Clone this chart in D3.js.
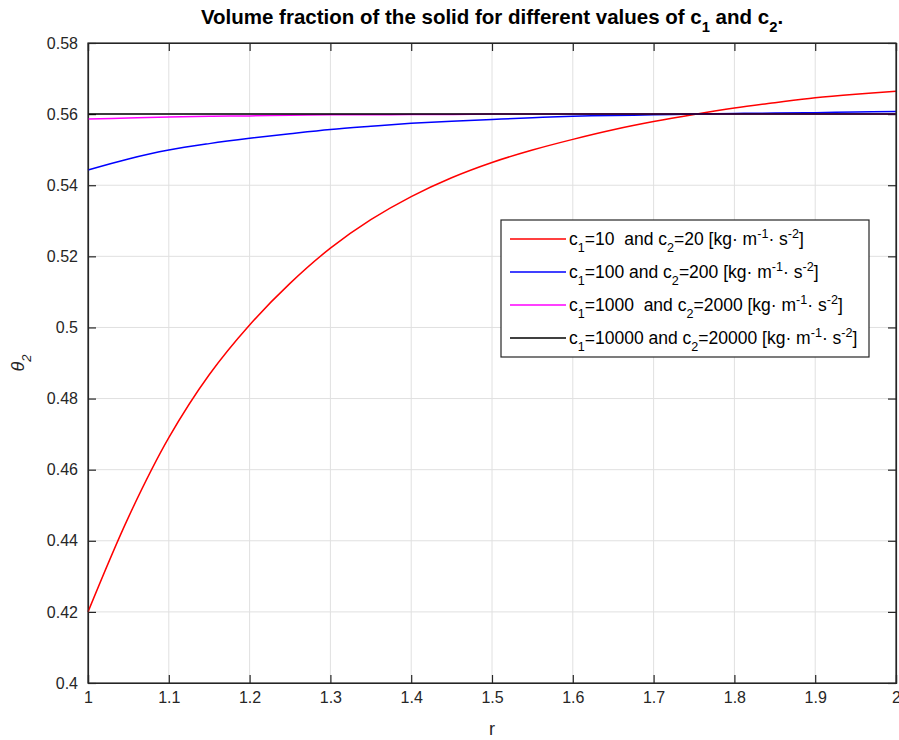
<!DOCTYPE html>
<html>
<head>
<meta charset="utf-8">
<script src="https://cdn.jsdelivr.net/npm/d3@7"></script>
<style>
  html, body { margin: 0; padding: 0; background: #ffffff; }
  svg { display: block; }
  text { font-family: "Liberation Sans", Arial, Helvetica, sans-serif; white-space: pre; }
</style>
</head>
<body>
<svg id="chart" width="899" height="740"></svg>
<script>
// ---------------- data ----------------
const rValues = [1.00, 1.05, 1.10, 1.15, 1.20, 1.25, 1.30, 1.35, 1.40, 1.45, 1.50,
                 1.55, 1.60, 1.65, 1.70, 1.75, 1.80, 1.85, 1.90, 1.95, 2.00];
const seriesC10 = [0.4200, 0.4466, 0.4690, 0.4867, 0.5007, 0.5124, 0.5223, 0.5303, 0.5368, 0.5421, 0.5464,
                   0.5499, 0.5529, 0.5556, 0.5579, 0.5599, 0.5617, 0.5632, 0.5646, 0.5656, 0.5664];
const seriesC100 = [0.5443, 0.5474, 0.5499, 0.5517, 0.5532, 0.5545, 0.5557, 0.5566, 0.5574, 0.5580, 0.5585,
                    0.5590, 0.5594, 0.5596, 0.5598, 0.5600, 0.5602, 0.5603, 0.5604, 0.5606, 0.5607];
const seriesC1000 = [0.5586, 0.5589, 0.5592, 0.5594, 0.5595, 0.5597, 0.5598, 0.5598, 0.5599, 0.5599, 0.5600,
                     0.5600, 0.5600, 0.5600, 0.5600, 0.5600, 0.5600, 0.5600, 0.5600, 0.5600, 0.5600];
const seriesC10000 = [0.5600, 0.5600, 0.5600, 0.5600, 0.5600, 0.5600, 0.5600, 0.5600, 0.5600, 0.5600, 0.5600,
                      0.5600, 0.5600, 0.5600, 0.5600, 0.5600, 0.5600, 0.5600, 0.5600, 0.5600, 0.5600];
const seriesLabels = [
  "c_{1}=10  and c_{2}=20 [kg· m^{-1}· s^{-2}]",
  "c_{1}=100 and c_{2}=200 [kg· m^{-1}· s^{-2}]",
  "c_{1}=1000  and c_{2}=2000 [kg· m^{-1}· s^{-2}]",
  "c_{1}=10000 and c_{2}=20000 [kg· m^{-1}· s^{-2}]"
];
const seriesColors = ["#ff0000", "#0000ff", "#ff00ff", "#000000"];
const xTicks = [1, 1.1, 1.2, 1.3, 1.4, 1.5, 1.6, 1.7, 1.8, 1.9, 2];
const yTicks = [0.4, 0.42, 0.44, 0.46, 0.48, 0.5, 0.52, 0.54, 0.56, 0.58];
const titleText = "Volume fraction of the solid for different values of c_{1} and c_{2}.";
const xLabelText = "r";
const yLabelText = "θ_{2}";

// ---------------- layout ----------------
const svg = d3.select("#chart");
const L = 88, R = 896, T = 43, B = 683;
const axisColor = "#262626";
const x = d3.scaleLinear().domain([1, 2]).range([L, R]);
const y = d3.scaleLinear().domain([0.4, 0.58]).range([B, T]);

// TeX-lite renderer: _{..} subscript, ^{..} superscript
function richText(sel, str, baseSize) {
  const re = /(_\{[^}]*\}|\^\{[^}]*\})/g;
  const parts = str.split(re).filter(s => s.length);
  let shift = 0;
  parts.forEach(p => {
    let txt = p, target = 0, size = baseSize;
    if (p.startsWith("_{")) { txt = p.slice(2, -1); target = baseSize * 0.38; size = baseSize * 0.72; }
    else if (p.startsWith("^{")) { txt = p.slice(2, -1); target = -baseSize * 0.38; size = baseSize * 0.72; }
    sel.append("tspan")
      .attr("dy", target - shift)
      .attr("font-size", size)
      .text(txt);
    shift = target;
  });
}

// grid
const grid = svg.append("g");
grid.selectAll("line.vx").data(xTicks.slice(1, -1)).enter().append("line")
  .attr("x1", d => x(d)).attr("x2", d => x(d)).attr("y1", T).attr("y2", B)
  .attr("stroke", "#e0e0e0").attr("stroke-width", 1);
grid.selectAll("line.hy").data(yTicks.slice(1, -1)).enter().append("line")
  .attr("x1", L).attr("x2", R).attr("y1", d => y(d)).attr("y2", d => y(d))
  .attr("stroke", "#e0e0e0").attr("stroke-width", 1);

// axes with inward ticks
const tickLen = 8;
const xAxisB = d3.axisBottom(x).tickValues(xTicks).tickSize(-tickLen).tickPadding(9)
  .tickFormat(d3.format("~g"));
const xAxisT = d3.axisTop(x).tickValues(xTicks).tickSize(-tickLen).tickFormat("");
const yAxisL = d3.axisLeft(y).tickValues(yTicks).tickSize(-tickLen).tickPadding(10)
  .tickFormat(d3.format("~g"));
const yAxisR = d3.axisRight(y).tickValues(yTicks).tickSize(-tickLen).tickFormat("");

function styleAxis(g) {
  g.selectAll("path").attr("stroke", axisColor).attr("stroke-width", 1.2);
  g.selectAll("line").attr("stroke", axisColor).attr("stroke-width", 1.2);
  g.selectAll("text").attr("fill", axisColor).attr("font-size", 16)
    .attr("font-family", "'Liberation Sans', Arial, sans-serif");
}
svg.append("g").attr("transform", `translate(0,${B})`).call(xAxisB).call(styleAxis);
svg.append("g").attr("transform", `translate(0,${T})`).call(xAxisT).call(styleAxis);
svg.append("g").attr("transform", `translate(${L},0)`).call(yAxisL).call(styleAxis);
svg.append("g").attr("transform", `translate(${R},0)`).call(yAxisR).call(styleAxis);

// series
const allSeries = [seriesC10, seriesC100, seriesC1000, seriesC10000];
const line = d3.line().x((d, i) => x(rValues[i])).y(d => y(d)).curve(d3.curveCatmullRom.alpha(0.5));
const plot = svg.append("g");
allSeries.forEach((s, k) => {
  plot.append("path").datum(s)
    .attr("fill", "none").attr("stroke", seriesColors[k]).attr("stroke-width", 1.5)
    .attr("d", line);
});

// box edges on top
svg.append("rect").attr("x", L).attr("y", T).attr("width", R - L).attr("height", B - T)
  .attr("fill", "none").attr("stroke", axisColor).attr("stroke-width", 1.2);

// legend
const lg = svg.append("g");
const lgX = 501, lgY = 220, lgW = 368, lgH = 137, rowH = 33, row0 = 239;
lg.append("rect").attr("x", lgX).attr("y", lgY).attr("width", lgW).attr("height", lgH)
  .attr("fill", "#ffffff").attr("stroke", axisColor).attr("stroke-width", 1.2);
seriesLabels.forEach((lab, k) => {
  const cy = row0 + k * rowH;
  lg.append("line").attr("x1", 510).attr("x2", 566).attr("y1", cy).attr("y2", cy)
    .attr("stroke", seriesColors[k]).attr("stroke-width", 1.5);
  const t = lg.append("text").attr("x", 569).attr("y", cy + 6)
    .attr("fill", "#000").attr("font-size", 17.5);
  richText(t, lab, 17.5);
});

// title
const tt = svg.append("text").attr("x", (L + R) / 2).attr("y", 24)
  .attr("text-anchor", "middle").attr("font-weight", "bold").attr("fill", "#000")
  .attr("font-size", 20.5);
richText(tt, titleText, 20.5);

// x label
svg.append("text").attr("x", (L + R) / 2).attr("y", 735).attr("text-anchor", "middle")
  .attr("fill", axisColor).attr("font-size", 18).text(xLabelText);

// y label
const yl = svg.append("text").attr("transform", `translate(24,${(T + B) / 2}) rotate(-90)`)
  .attr("text-anchor", "middle").attr("fill", axisColor).attr("font-size", 18)
  .attr("font-style", "italic");
richText(yl, yLabelText, 18);
</script>
</body>
</html>
